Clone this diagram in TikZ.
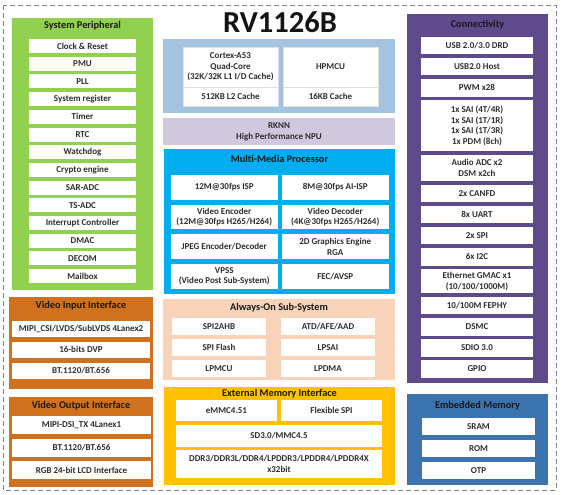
\documentclass[tikz,border=0pt]{standalone}
\usepackage{fontspec}
\setmainfont{Carlito}
\usetikzlibrary{positioning}

\definecolor{spgreen}{HTML}{92D050}
\definecolor{vidorange}{HTML}{D0711F}
\definecolor{cpublue}{HTML}{A3C3E0}
\definecolor{npupurple}{HTML}{D0C8DC}
\definecolor{mmblue}{HTML}{00ADEF}
\definecolor{aopeach}{HTML}{F8D3BA}
\definecolor{emyellow}{HTML}{FFC000}
\definecolor{conpurple}{HTML}{5F4A8B}
\definecolor{embblue}{HTML}{3B73AE}

\begin{document}
\begin{tikzpicture}[x=1pt,y=-1pt,
  panel/.style={anchor=north west,inner sep=0pt,outer sep=0pt},
  ptitle/.style={font=\fontsize{10.3}{12}\selectfont\bfseries,text=black!90},
  blk/.style={fill=white,inner sep=1pt,outer sep=0pt,align=center,font=\fontsize{9}{10.7}\selectfont\bfseries,text=black!82},
  spblk/.style={blk,minimum width=107pt,minimum height=14pt},
  viblk/.style={blk,minimum width=138pt,minimum height=15.5pt},
  voblk/.style={blk,minimum width=139pt,minimum height=18pt},
  cpublk/.style={blk,minimum width=95pt,draw=black!12,line width=0.4pt},
  mmblk/.style={blk,minimum width=106.5pt,minimum height=24.5pt},
  aoblk/.style={blk,minimum width=94pt,minimum height=17pt},
  emblk/.style={blk,minimum width=101pt,minimum height=21pt},
  conblk/.style={blk,minimum width=112pt,minimum height=17.3pt},
  embblk/.style={blk,minimum width=113pt,minimum height=17pt}]
\useasboundingbox (0,0) rectangle (562,495);
\draw[gray,line width=0.8pt,dash pattern=on 5pt off 3pt] (3,5) rectangle (556,490);

\node[font=\fontsize{30.5}{33}\selectfont\bfseries,text=black!92] (chip) at (280,22) {RV1126B};

\node[panel,fill=spgreen,minimum width=141pt,minimum height=272pt] (sp) at (12,18) {};
\node[ptitle] (sptitle) at (82.5,26) {System Peripheral};
\node[spblk,anchor=north] (clk) at (82.5,39) {Clock \& Reset};
\node[spblk,below=3.7pt of clk] (pmu) {PMU};
\node[spblk,below=3.7pt of pmu] (pll) {PLL};
\node[spblk,below=3.7pt of pll] (sysreg) {System register};
\node[spblk,below=3.7pt of sysreg] (timer) {Timer};
\node[spblk,below=3.7pt of timer] (rtc) {RTC};
\node[spblk,below=3.7pt of rtc] (wdt) {Watchdog};
\node[spblk,below=3.7pt of wdt] (crypto) {Crypto engine};
\node[spblk,below=3.7pt of crypto] (saradc) {SAR-ADC};
\node[spblk,below=3.7pt of saradc] (tsadc) {TS-ADC};
\node[spblk,below=3.7pt of tsadc] (intc) {Interrupt Controller};
\node[spblk,below=3.7pt of intc] (dmac) {DMAC};
\node[spblk,below=3.7pt of dmac] (decom) {DECOM};
\node[spblk,below=3.7pt of decom] (mbox) {Mailbox};

\node[panel,fill=vidorange,minimum width=144pt,minimum height=92pt] (vi) at (9,297) {};
\node[ptitle] (vititle) at (81,306) {Video Input Interface};
\node[viblk,anchor=north] (csi) at (81,321) {MIPI\_CSI/LVDS/SubLVDS 4Lanex2};
\node[viblk,below=5.5pt of csi] (dvp) {16-bits DVP};
\node[viblk,below=5.5pt of dvp] (btin) {BT.1120/BT.656};

\node[panel,fill=vidorange,minimum width=144pt,minimum height=90pt] (vo) at (9,397) {};
\node[ptitle] (votitle) at (81,406) {Video Output Interface};
\node[voblk,anchor=north] (dsi) at (81.5,416) {MIPI-DSI\_TX 4Lanex1};
\node[voblk,below=4.5pt of dsi] (btout) {BT.1120/BT.656};
\node[voblk,below=4.5pt of btout] (rgb) {RGB 24-bit LCD Interface};

\node[panel,fill=cpublue,minimum width=232pt,minimum height=74pt] (cpu) at (163,39) {};
\node[cpublk,anchor=north west,minimum height=40pt] (a53) at (183,47) {Cortex-A53\\Quad-Core\\(32K/32K L1 I/D Cache)};
\node[cpublk,below=0pt of a53,minimum height=19pt] (l2) {512KB L2 Cache};
\node[cpublk,anchor=north west,minimum height=40pt] (hpmcu) at (283,47) {HPMCU};
\node[cpublk,below=0pt of hpmcu,minimum height=19pt] (mcucache) {16KB Cache};

\node[panel,fill=npupurple,minimum width=232pt,minimum height=27pt,align=center,font=\fontsize{9}{10.7}\selectfont\bfseries,text=black!82] (npu) at (163,118) {RKNN\\High Performance NPU};

\node[panel,fill=mmblue,minimum width=231pt,minimum height=145pt] (mm) at (164,149) {};
\node[ptitle] (mmtitle) at (279.5,159) {Multi-Media Processor};
\node[mmblk,anchor=north west] (isp) at (171,175) {12M@30fps ISP};
\node[mmblk,right=4.5pt of isp] (aiisp) {8M@30fps AI-ISP};
\node[mmblk,below=5.2pt of isp] (venc) {Video Encoder\\(12M@30fps H265/H264)};
\node[mmblk,below=5.2pt of aiisp] (vdec) {Video Decoder\\(4K@30fps H265/H264)};
\node[mmblk,below=5.2pt of venc] (jpeg) {JPEG Encoder/Decoder};
\node[mmblk,below=5.2pt of vdec] (rga) {2D Graphics Engine\\RGA};
\node[mmblk,below=5.2pt of jpeg] (vpss) {VPSS\\(Video Post Sub-System)};
\node[mmblk,below=5.2pt of rga] (fec) {FEC/AVSP};

\node[panel,fill=aopeach,minimum width=232pt,minimum height=81pt] (ao) at (163,299) {};
\node[ptitle] (aotitle) at (279,307.5) {Always-On Sub-System};
\node[aoblk,anchor=north west] (spi2ahb) at (172,318) {SPI2AHB};
\node[aoblk,right=15pt of spi2ahb] (atd) {ATD/AFE/AAD};
\node[aoblk,below=4pt of spi2ahb] (spiflash) {SPI Flash};
\node[aoblk,below=4pt of atd] (lpsai) {LPSAI};
\node[aoblk,below=4pt of spiflash] (lpmcu) {LPMCU};
\node[aoblk,below=4pt of lpsai] (lpdma) {LPDMA};

\node[panel,fill=emyellow,minimum width=231pt,minimum height=98pt] (em) at (164,387) {};
\node[ptitle] (emtitle) at (279.5,393.5) {External Memory Interface};
\node[emblk,anchor=north west] (emmc) at (176,400) {eMMC4.51};
\node[emblk,right=4pt of emmc] (fspi) {Flexible SPI};
\node[emblk,anchor=north west,minimum width=206pt,minimum height=22pt] (sd) at (176,425) {SD3.0/MMC4.5};
\node[emblk,below=3pt of sd,minimum width=206pt,minimum height=28pt] (ddr) {DDR3/DDR3L/DDR4/LPDDR3/LPDDR4/LPDDR4X\\x32bit};

\node[panel,fill=conpurple,minimum width=141pt,minimum height=369pt] (con) at (407,14) {};
\node[ptitle] (contitle) at (477.5,25) {Connectivity};
\node[conblk,anchor=north] (usb3) at (477,37) {USB 2.0/3.0 DRD};
\node[conblk,below=3.8pt of usb3] (usbhost) {USB2.0 Host};
\node[conblk,below=3.8pt of usbhost] (pwm) {PWM x28};
\node[conblk,below=3.8pt of pwm,minimum height=51pt] (sai) {1x SAI (4T/4R)\\1x SAI (1T/1R)\\1x SAI (1T/3R)\\1x PDM (8ch)};
\node[conblk,below=3.8pt of sai,minimum height=26pt] (adc) {Audio ADC x2\\DSM x2ch};
\node[conblk,below=3.8pt of adc] (canfd) {2x CANFD};
\node[conblk,below=3.8pt of canfd] (uart) {8x UART};
\node[conblk,below=3.8pt of uart] (spi) {2x SPI};
\node[conblk,below=3.8pt of spi] (i2c) {6x I2C};
\node[conblk,below=3.8pt of i2c,minimum height=24pt] (gmac) {Ethernet GMAC x1\\(10/100/1000M)};
\node[conblk,below=3.8pt of gmac] (fephy) {10/100M FEPHY};
\node[conblk,below=3.8pt of fephy] (dsmc) {DSMC};
\node[conblk,below=3.8pt of dsmc] (sdio) {SDIO 3.0};
\node[conblk,below=3.8pt of sdio] (gpio) {GPIO};

\node[panel,fill=embblue,minimum width=141pt,minimum height=91pt] (emb) at (407,394) {};
\node[ptitle] (embtitle) at (477.5,406) {Embedded Memory};
\node[embblk,anchor=north] (sram) at (478.5,418) {SRAM};
\node[embblk,below=5pt of sram] (rom) {ROM};
\node[embblk,below=5pt of rom] (otp) {OTP};
\end{tikzpicture}
\end{document}
